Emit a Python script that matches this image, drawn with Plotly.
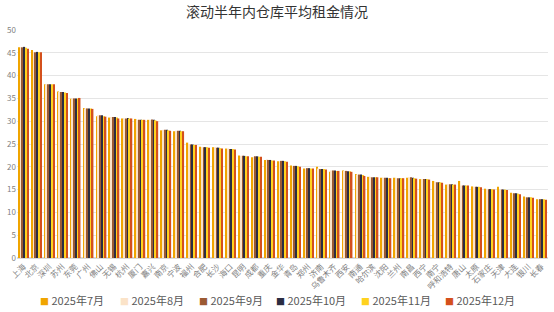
import plotly.graph_objects as go

cities = ["上海", "北京", "深圳", "苏州", "东莞", "广州", "佛山", "无锡", "杭州", "厦门",
          "嘉兴", "南京", "宁波", "福州", "合肥", "长沙", "海口", "昆明", "成都", "重庆",
          "金华", "青岛", "郑州", "济南", "乌鲁木齐", "西安", "南通", "哈尔滨", "沈阳", "兰州",
          "南昌", "西宁", "南宁", "呼和浩特", "唐山", "太原", "石家庄", "天津", "大连", "银川", "长春"]

series_names = ["2025年7月", "2025年8月", "2025年9月", "2025年10月", "2025年11月", "2025年12月"]

jul = [46.2, 45.6, 38.1, 36.5, 34.9, 32.9, 31.1, 30.8, 30.6, 30.5, 30.3, 28.0, 27.8, 25.3, 24.4, 24.3, 24.0, 22.5, 22.1, 21.5, 21.2, 20.3, 19.6, 20.0, 18.9, 19.2, 18.4, 17.8, 17.6, 17.6, 17.6, 17.3, 16.9, 16.1, 16.9, 15.7, 15.2, 15.6, 14.3, 13.5, 12.9]
aug = [46.2, 45.2, 38.1, 36.4, 35.0, 32.8, 31.3, 30.9, 30.6, 30.3, 30.3, 28.1, 27.9, 25.0, 24.3, 24.3, 24.0, 22.4, 22.2, 21.6, 21.2, 20.2, 19.6, 19.6, 19.2, 19.1, 18.3, 17.8, 17.6, 17.5, 17.7, 17.3, 16.7, 16.2, 15.9, 15.6, 15.1, 15.0, 14.2, 13.3, 12.9]
sep = [46.2, 45.1, 38.1, 36.4, 35.0, 32.8, 31.3, 30.9, 30.6, 30.3, 30.4, 28.1, 27.9, 24.9, 24.3, 24.2, 23.9, 22.4, 22.3, 21.5, 21.3, 20.2, 19.7, 19.5, 19.2, 19.1, 18.3, 17.7, 17.6, 17.5, 17.7, 17.3, 16.6, 16.2, 15.9, 15.6, 15.1, 15.0, 14.2, 13.3, 12.9]
oct_ = [46.3, 45.2, 38.1, 36.4, 35.0, 32.8, 31.3, 30.9, 30.7, 30.3, 30.3, 28.1, 27.9, 24.9, 24.3, 24.2, 23.9, 22.4, 22.3, 21.5, 21.3, 20.2, 19.7, 19.5, 19.2, 19.0, 18.3, 17.7, 17.6, 17.5, 17.6, 17.3, 16.6, 16.2, 15.9, 15.6, 15.1, 15.0, 14.2, 13.3, 12.9]
nov = [46.1, 45.1, 38.1, 36.3, 35.0, 32.8, 31.1, 30.8, 30.6, 30.3, 30.2, 28.0, 27.8, 24.8, 24.3, 24.1, 23.9, 22.3, 22.2, 21.4, 21.2, 20.1, 19.6, 19.5, 19.1, 19.0, 18.2, 17.7, 17.5, 17.5, 17.5, 17.3, 16.6, 16.1, 15.9, 15.6, 15.1, 15.0, 14.1, 13.3, 12.9]
dec = [45.9, 45.1, 38.1, 36.2, 35.1, 32.7, 31.0, 30.6, 30.6, 30.3, 30.0, 27.9, 27.8, 24.8, 24.2, 24.0, 23.8, 22.3, 22.2, 21.4, 21.1, 20.0, 19.6, 19.4, 19.1, 18.9, 18.0, 17.7, 17.5, 17.5, 17.4, 17.2, 16.5, 16.1, 15.9, 15.5, 15.0, 14.9, 14.0, 13.2, 12.8]

colors = ["#F0A500", "#FBE3C8", "#9B5A33", "#2B2D42", "#FFD21F", "#D4501C"]

W, H = 554, 312
ML, MR, MT, MB = 17, 6, 30, 54
plot_w = W - ML - MR
plot_h = H - MT - MB

fig = go.Figure()
for name, vals, col in zip(series_names, [jul, aug, sep, oct_, nov, dec], colors):
    fig.add_trace(go.Bar(x=cities, y=vals, name=name, showlegend=False,
                         marker=dict(color=col, line=dict(width=0))))

# legend drawn as text entries (small square + label)
legend_left_px = [38, 118, 197, 274, 359, 443]
legend_y_px = 300
annotations = []
for name, col, lx in zip(series_names, colors, legend_left_px):
    annotations.append(dict(
        xref="paper", yref="paper",
        x=(lx - ML) / plot_w, y=(H - MB - legend_y_px) / plot_h,
        xanchor="left", yanchor="middle", showarrow=False,
        text=f'<span style="color:{col};font-size:9px">■</span> {name}',
        font=dict(size=11, color="#595959"),
    ))

fig.update_layout(
    width=W, height=H,
    margin=dict(l=ML, r=MR, t=MT, b=MB),
    paper_bgcolor="white", plot_bgcolor="white",
    font=dict(family="Noto Sans CJK SC, sans-serif", color="#595959"),
    title=dict(text="滚动半年内仓库平均租金情况", x=0.5, xanchor="center", y=0.962, yanchor="middle",
               font=dict(size=14, color="#333333")),
    barmode="group", bargap=0.18, bargroupgap=0.15,
    annotations=annotations,
)
fig.update_yaxes(range=[0, 50], dtick=5, showgrid=True, gridcolor="#E5E5E5", gridwidth=1,
                 zeroline=True, zerolinecolor="#D9D9D9", showline=False,
                 tickfont=dict(size=8, color="#7F7F7F"), ticks="", automargin=False)
fig.update_xaxes(tickangle=-45, tickfont=dict(size=8, color="#7F7F7F"), showline=True,
                 linecolor="#D9D9D9", ticks="", automargin=False)

fig.write_html("out.html")
